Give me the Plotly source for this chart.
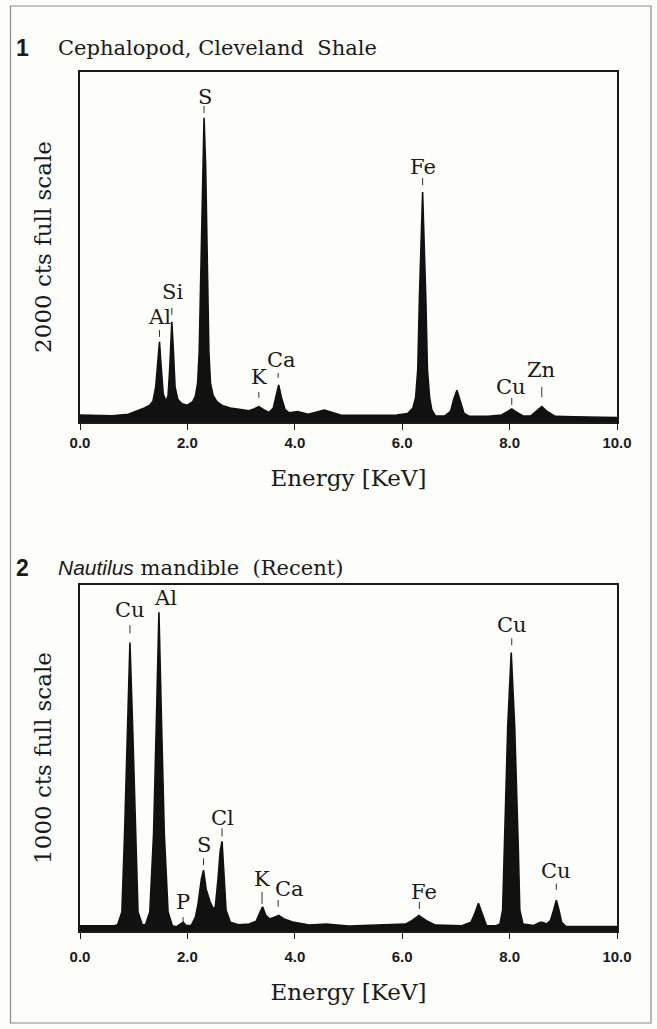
import plotly.graph_objects as go

W, H = 657, 1029

# ---------------- Panel 1: Cephalopod, Cleveland Shale (2000 cts full scale)
p1_energy = [0.00, 0.30, 0.60, 0.90, 1.05, 1.20, 1.30, 1.36, 1.41, 1.45, 1.48, 1.51, 1.55, 1.60,
             1.64, 1.67, 1.71, 1.74, 1.77, 1.82, 1.90, 2.00, 2.10, 2.15, 2.19, 2.22, 2.245, 2.28,
             2.31, 2.34, 2.375, 2.40, 2.43, 2.48, 2.55, 2.65, 2.80, 3.00, 3.15, 3.25, 3.33, 3.42,
             3.52, 3.60, 3.66, 3.70, 3.75, 3.82, 3.90, 4.05, 4.25, 4.40, 4.55, 4.70, 4.85, 5.20,
             5.60, 5.90, 6.10, 6.20, 6.25, 6.29, 6.32, 6.38, 6.44, 6.47, 6.51, 6.55, 6.62, 6.80,
             6.90, 6.96, 7.02, 7.08, 7.15, 7.25, 7.60, 7.85, 7.95, 8.04, 8.13, 8.25, 8.40, 8.50,
             8.60, 8.70, 8.85, 9.20, 9.60, 10.00]
p1_counts = [40, 40, 36, 44, 60, 80, 96, 120, 200, 360, 458, 320, 160, 120,
             150, 300, 572, 400, 200, 130, 104, 96, 116, 150, 220, 400, 800, 1460,
             1738, 1460, 800, 400, 220, 150, 116, 94, 80, 70, 64, 76, 88, 70,
             54, 80, 160, 212, 140, 70, 52, 60, 44, 56, 68, 54, 40, 38,
             40, 40, 48, 80, 140, 300, 700, 1314, 700, 300, 140, 70, 34, 36,
             60, 130, 182, 120, 50, 32, 32, 40, 60, 74, 56, 34, 36, 60,
             88, 60, 32, 30, 28, 26]

p1_labels = ["S", "Al", "Si", "K", "Ca", "Fe", "Cu", "Zn"]
p1_label_x = [2.32, 1.48, 1.72, 3.33, 3.76, 6.38, 8.03, 8.58]
p1_label_y = [1858, 600, 742, 258, 354, 1458, 200, 298]
p1_mark_x = [2.31, 1.48, 1.71, 3.33, 3.69, 6.38, 8.04, 8.60]
p1_mark_y0 = [1766, 486, 612, 138, 252, 1354, 98, 142]
p1_mark_y1 = [1806, 526, 652, 172, 280, 1394, 138, 200]

# ---------------- Panel 2: Nautilus mandible (Recent) (1000 cts full scale)
p2_energy = [0.00, 0.40, 0.65, 0.70, 0.78, 0.83, 0.88, 0.93, 0.98, 1.03, 1.08, 1.16, 1.22,
             1.30, 1.37, 1.42, 1.47, 1.52, 1.57, 1.64, 1.72, 1.79, 1.86, 1.92, 1.98, 2.07,
             2.15, 2.20, 2.26, 2.30, 2.35, 2.42, 2.48, 2.52, 2.57, 2.61, 2.645, 2.68, 2.72,
             2.80, 2.95, 3.15, 3.28, 3.34, 3.40, 3.46, 3.53, 3.62, 3.70, 3.80, 3.96, 4.27,
             4.58, 5.00, 5.63, 6.06, 6.18, 6.31, 6.45, 6.62, 7.11, 7.28, 7.35, 7.42, 7.49,
             7.57, 7.75, 7.82, 7.87, 7.90, 7.965, 8.03, 8.095, 8.16, 8.19, 8.25, 8.45, 8.55,
             8.60, 8.69, 8.76, 8.82, 8.87, 8.92, 8.97, 9.05, 9.50, 10.00]
p2_counts = [15, 15, 16, 18, 55, 280, 590, 834, 590, 280, 55, 18, 18,
             55, 280, 590, 921, 590, 280, 55, 15, 12, 18, 25, 16, 16,
             40, 80, 150, 176, 120, 85, 65, 70, 150, 230, 259, 160, 60,
             25, 18, 20, 28, 50, 70, 45, 35, 40, 45, 35, 26, 17,
             20, 14, 17, 20, 30, 45, 30, 17, 15, 25, 50, 80, 50,
             15, 15, 20, 60, 250, 590, 805, 590, 250, 60, 20, 16, 24,
             26, 20, 30, 60, 89, 60, 25, 13, 13, 13]

p2_labels = ["Cu", "Al", "P", "S", "Cl", "K", "Ca", "Fe", "Cu", "Cu"]
p2_label_x = [0.93, 1.59, 1.91, 2.30, 2.65, 3.39, 3.90, 6.40, 8.05, 8.87]
p2_label_y = [927, 962, 84, 250, 326, 151, 122, 113, 884, 172]
p2_mark_x = [0.93, 1.92, 2.30, 2.645, 3.39, 3.69, 6.32, 8.04, 8.87]
p2_mark_y0 = [860, 26, 190, 273, 78, 70, 64, 826, 119]
p2_mark_y1 = [884, 40, 210, 297, 113, 90, 84, 846, 137]

tick_vals = [0, 2, 4, 6, 8, 10]

SERIF = "DejaVu Serif"
SANS = "Liberation Sans"
INK = "#1a1a1a"
BG = "#fdfdf9"

fig = go.Figure()
fig.add_trace(go.Scatter(x=p1_energy, y=p1_counts, mode="lines", fill="tozeroy",
                         line=dict(color="#111111", width=1.6), fillcolor="#111111",
                         xaxis="x", yaxis="y", showlegend=False, hoverinfo="skip"))
fig.add_trace(go.Scatter(x=p2_energy, y=p2_counts, mode="lines", fill="tozeroy",
                         line=dict(color="#111111", width=1.6), fillcolor="#111111",
                         xaxis="x2", yaxis="y2", showlegend=False, hoverinfo="skip"))

def py(p):  # pixel y from top -> paper
    return 1 - p / H

def px(p):
    return p / W

xdom = [px(80), px(617)]
axis_common = dict(showline=True, linecolor=INK, linewidth=1.5, mirror=True,
                   showgrid=False, zeroline=False, automargin=False)

xaxis_style = dict(range=[0, 10], tickvals=tick_vals,
                   tickformat=".1f", ticks="outside", ticklen=6, tickwidth=1.2, tickcolor=INK,
                   tickfont=dict(family=SANS, size=15, color=INK, weight="bold"))

fig.update_layout(
    width=W, height=H, autosize=False,
    margin=dict(l=0, r=0, t=0, b=0),
    paper_bgcolor=BG, plot_bgcolor=BG,
    showlegend=False,
    xaxis=dict(domain=xdom, anchor="y",
               title=dict(text="Energy [KeV]", font=dict(family=SERIF, size=23, color=INK),
                          standoff=20),
               **xaxis_style, **axis_common),
    yaxis=dict(domain=[py(422), py(72)], anchor="x", range=[0, 2000],
               showticklabels=False, ticks="",
               title=dict(text="2000 cts full scale", font=dict(family=SERIF, size=23, color=INK),
                          standoff=20),
               **axis_common),
    xaxis2=dict(domain=xdom, anchor="y2", ticklabelstandoff=5,
                title=dict(text="Energy [KeV]", font=dict(family=SERIF, size=23, color=INK),
                           standoff=20),
                **xaxis_style, **axis_common),
    yaxis2=dict(domain=[py(931), py(585)], anchor="x2", range=[0, 1000],
                showticklabels=False, ticks="",
                title=dict(text="1000 cts full scale", font=dict(family=SERIF, size=23, color=INK),
                           standoff=20),
                **axis_common),
)

ann = []
shapes = []

# outer frame
shapes.append(dict(type="rect", xref="paper", yref="paper",
                   x0=px(10.5), x1=px(651), y0=py(1023), y1=py(6),
                   line=dict(color="#8a8a8a", width=1.2)))

# panel headings
ann.append(dict(text="<b>1</b>", x=px(22), y=py(48), xref="paper", yref="paper",
                showarrow=False, xanchor="center", yanchor="middle",
                font=dict(family=SANS, size=23, color=INK)))
ann.append(dict(text="Cephalopod, Cleveland  Shale", x=px(56), y=py(48), xref="paper", yref="paper",
                showarrow=False, xanchor="left", yanchor="middle",
                font=dict(family=SERIF, size=21, color=INK)))
ann.append(dict(text="<b>2</b>", x=px(22), y=py(568), xref="paper", yref="paper",
                showarrow=False, xanchor="center", yanchor="middle",
                font=dict(family=SANS, size=23, color=INK)))
ann.append(dict(text="<span style=\"font-family:'Liberation Sans'\"><i>Nautilus</i></span> mandible  (Recent)",
                x=px(56), y=py(568), xref="paper", yref="paper",
                showarrow=False, xanchor="left", yanchor="middle",
                font=dict(family=SERIF, size=21, color=INK)))

# peak labels
for t, x, y in zip(p1_labels, p1_label_x, p1_label_y):
    ann.append(dict(text=t, x=x, y=y, xref="x", yref="y", showarrow=False,
                    xanchor="center", yanchor="middle",
                    font=dict(family=SERIF, size=21, color=INK)))
for x, y0, y1 in zip(p1_mark_x, p1_mark_y0, p1_mark_y1):
    shapes.append(dict(type="line", xref="x", yref="y", x0=x, x1=x, y0=y0, y1=y1,
                       line=dict(color="#333333", width=1)))
for t, x, y in zip(p2_labels, p2_label_x, p2_label_y):
    ann.append(dict(text=t, x=x, y=y, xref="x2", yref="y2", showarrow=False,
                    xanchor="center", yanchor="middle",
                    font=dict(family=SERIF, size=21, color=INK)))
for x, y0, y1 in zip(p2_mark_x, p2_mark_y0, p2_mark_y1):
    shapes.append(dict(type="line", xref="x2", yref="y2", x0=x, x1=x, y0=y0, y1=y1,
                       line=dict(color="#333333", width=1)))

fig.update_layout(annotations=ann, shapes=shapes)
fig.write_html("out.html", config={"displayModeBar": False},
               post_script="document.body.style.margin='0';document.body.style.padding='0';"
                           "document.body.style.overflow='hidden';")
